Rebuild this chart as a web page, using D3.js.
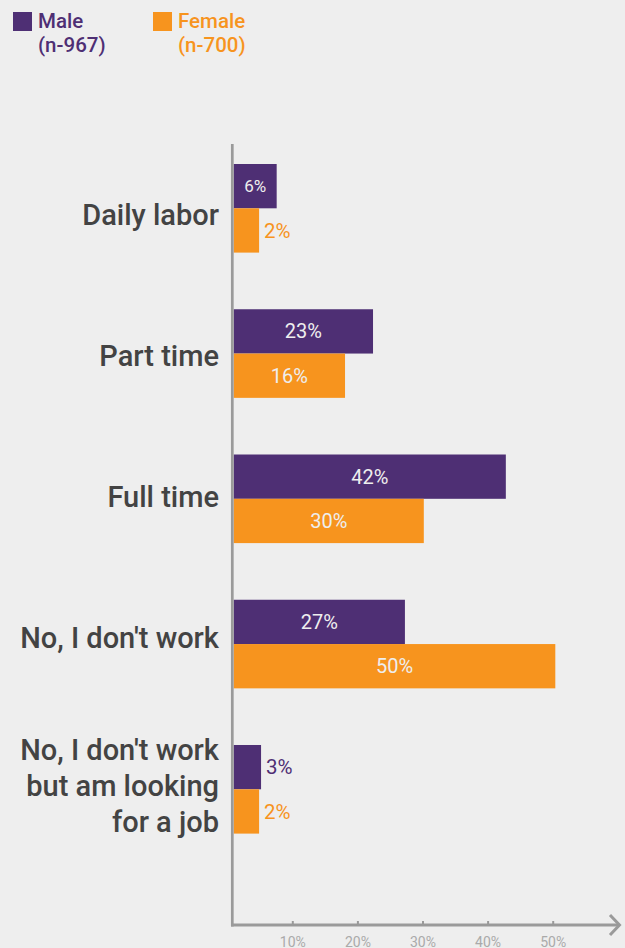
<!DOCTYPE html>
<html>
<head>
<meta charset="utf-8">
<script src="https://cdn.jsdelivr.net/npm/d3@7"></script>
<style>
  html, body { margin: 0; padding: 0; background: #eeeeee; }
  svg { display: block; font-family: Roboto, "Noto Sans", sans-serif; }
</style>
</head>
<body>
<svg id="chart" width="625" height="948"></svg>
<script>
// ---- data ----
const categories = ["Daily labor", "Part time", "Full time", "No, I don't work", "No, I don't work but am looking for a job"];
const categoryLines = [["Daily labor"], ["Part time"], ["Full time"], ["No, I don't work"], ["No, I don't work", "but am looking", "for a job"]];
const seriesNames = ["Male", "Female"];
const seriesCounts = ["(n-967)", "(n-700)"];
// displayed percentage labels
const maleLabels = [6, 23, 42, 27, 3];
const femaleLabels = [2, 16, 30, 50, 2];
// bar lengths as drawn in the picture (percent units)
const maleValues = [7.6, 22.4, 42.8, 27.3, 5.2];
const femaleValues = [4.9, 18.1, 30.2, 50.4, 4.9];
const tickValues = [10, 20, 30, 40, 50];

const colors = { Male: "#4e2f74", Female: "#f7941e" };

const svg = d3.select("#chart");
const W = 625, H = 948;

svg.append("rect").attr("width", W).attr("height", H).attr("fill", "#eeeeee");

const axisX = 232.3, axisY = 925, barStart = 233.7;

const x = d3.scaleLinear().domain([0, 50]).range([227.2, 552.7]);
const y = d3.scaleBand().domain(categories).range([164, 833.6]).paddingInner(0.39).paddingOuter(0);
const yLabel = d3.scalePoint().domain(categories).range([225, 789]);
const bh = y.bandwidth() / 2;

// ---- legend ----
const legend = svg.append("g");
const legendX = [13, 153];
seriesNames.forEach((s, i) => {
  const g = legend.append("g").attr("transform", `translate(${legendX[i]},0)`);
  g.append("rect").attr("x", 0).attr("y", 12).attr("width", 19).attr("height", 19).attr("fill", colors[s]);
  g.append("text").attr("x", 25).attr("y", 28).attr("font-size", 20.5).attr("font-weight", 500)
    .attr("fill", colors[s]).text(s);
  g.append("text").attr("x", 25).attr("y", 51.5).attr("font-size", 20.5).attr("font-weight", 500)
    .attr("fill", colors[s]).text(seriesCounts[i]);
});

// ---- bars ----
const rows = categories.map((c, i) => ({
  cat: c,
  items: [
    { s: "Male", v: maleValues[i], l: maleLabels[i], off: 0 },
    { s: "Female", v: femaleValues[i], l: femaleLabels[i], off: bh }
  ]
}));

const gBars = svg.append("g");
rows.forEach(r => {
  r.items.forEach(it => {
    const w = x(it.v) - barStart;
    const y0 = y(r.cat) + it.off;
    gBars.append("rect").attr("x", barStart).attr("y", y0).attr("width", w).attr("height", bh)
      .attr("fill", colors[it.s]);
    const inside = w > 40;
    const t = gBars.append("text")
      .attr("y", y0 + bh / 2).attr("dy", "0.35em")
      .attr("font-weight", 400)
      .text(it.l + "%");
    if (inside) {
      t.attr("x", barStart + w / 2).attr("text-anchor", "middle")
        .attr("font-size", w < 60 ? 17 : 20).attr("fill", "#eeeeee");
    } else {
      t.attr("x", barStart + w + 5).attr("text-anchor", "start")
        .attr("font-size", 20.5).attr("fill", colors[it.s]);
    }
  });
});

// ---- category labels ----
const gLab = svg.append("g");
categories.forEach((c, i) => {
  const lines = categoryLines[i];
  const lh = 36;
  const base = yLabel(c) - (lines.length - 1) / 2 * lh + (lines.length > 1 ? 7 : 0);
  lines.forEach((ln, j) => {
    gLab.append("text").attr("x", 219).attr("y", base + j * lh)
      .attr("text-anchor", "end").attr("font-size", 29).attr("font-weight", 500)
      .attr("fill", "#434343").text(ln);
  });
});

// ---- axes ----
const axisColor = "#9a9a9a";
svg.append("line").attr("x1", axisX).attr("x2", axisX).attr("y1", 144).attr("y2", axisY + 1.5)
  .attr("stroke", axisColor).attr("stroke-width", 2.7);
svg.append("line").attr("x1", axisX - 1.3).attr("x2", 619).attr("y1", axisY).attr("y2", axisY)
  .attr("stroke", axisColor).attr("stroke-width", 3);
svg.append("path").attr("d", `M610,915 L619.5,925 L610,935`)
  .attr("fill", "none").attr("stroke", axisColor).attr("stroke-width", 3);

const xAxis = d3.axisBottom(x).tickValues(tickValues).tickFormat(d => d + "%").tickSize(0).tickPadding(12);
const gx = svg.append("g").attr("transform", `translate(0,${axisY})`).call(xAxis);
gx.select(".domain").remove();
gx.selectAll(".tick line").attr("y1", -4).attr("y2", 1).attr("stroke", axisColor).attr("stroke-width", 2);
gx.selectAll(".tick text").attr("font-size", 14).attr("fill", "#aaaaaa").attr("font-family", "Roboto, sans-serif");
</script>
</body>
</html>
